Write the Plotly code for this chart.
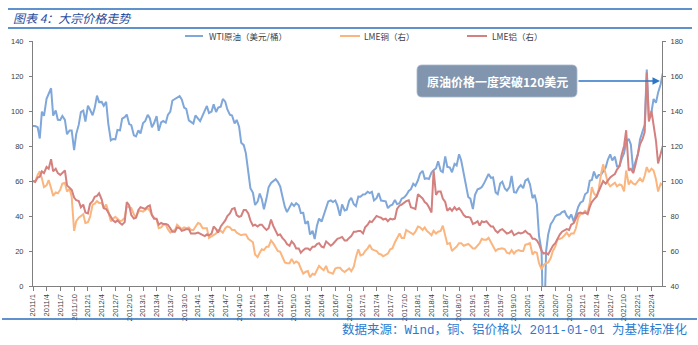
import pandas as pd
import plotly.graph_objects as go

# Semi-monthly samples (1st and 15th of each month), 2011-01 .. 2022-06
dates = pd.date_range("2011-01-01", "2022-06-15", freq="SMS")

# WTI crude, USD/bbl (left axis)
wti_usd = [
    # 2011
    91.5, 91.4, 90.8, 84.3, 99.6, 97.2, 107.0, 109.7, 113.0, 97.4, 100.3, 95.0,
    94.9, 97.2, 94.9, 86.7, 88.9, 88.9, 77.6, 86.8, 92.2, 99.4, 100.2, 94.0,
    # 2012
    103.0, 100.7, 97.6, 101.8, 108.8, 105.1, 105.2, 103.0, 105.2, 92.8, 83.2, 84.0,
    83.8, 89.2, 88.9, 95.6, 96.5, 98.0, 92.5, 91.9, 86.1, 85.5, 88.9, 87.2,
    # 2013
    93.1, 94.2, 97.8, 95.9, 90.7, 93.0, 97.1, 88.7, 93.5, 94.3, 93.3, 97.8,
    99.6, 106.0, 106.9, 107.3, 108.5, 106.6, 102.0, 101.2, 94.6, 93.8, 92.8, 97.5,
    # 2014
    95.4, 94.2, 97.5, 100.3, 102.9, 98.9, 99.7, 103.8, 99.4, 102.0, 102.5, 106.9,
    105.3, 100.9, 97.9, 97.4, 92.9, 94.9, 91.0, 81.8, 80.5, 75.8, 66.2, 55.9,
    # 2015
    53.3, 46.3, 48.2, 52.8, 49.6, 43.9, 50.1, 56.4, 58.9, 59.7, 61.0, 59.5,
    56.9, 51.4, 45.2, 42.2, 45.4, 47.2, 45.7, 47.3, 46.1, 41.7, 41.8, 35.5,
    # 2016
    37.0, 29.4, 31.6, 26.8, 34.4, 38.5, 36.8, 40.4, 44.8, 48.3, 48.9, 48.0,
    48.9, 45.9, 40.1, 46.6, 43.2, 43.6, 48.7, 50.4, 46.7, 45.6, 51.1, 51.0,
    # 2017
    52.3, 52.4, 53.9, 53.1, 53.8, 48.9, 50.2, 53.1, 48.8, 48.7, 48.4, 44.5,
    46.0, 46.5, 49.2, 46.8, 47.3, 49.9, 50.6, 51.9, 54.3, 55.3, 58.4, 57.3,
    # 2018
    60.4, 64.3, 65.8, 61.3, 61.6, 61.2, 64.9, 66.2, 67.3, 71.3, 65.8, 65.1,
    74.1, 68.1, 67.7, 65.0, 69.8, 68.9, 75.3, 71.8, 63.7, 56.5, 50.9, 49.9,
    # 2019
    44.0, 52.1, 55.3, 55.7, 56.6, 58.5, 61.6, 64.0, 61.8, 62.0, 53.5, 52.5,
    58.5, 59.6, 55.7, 54.5, 56.5, 62.9, 53.6, 53.4, 56.2, 57.7, 55.9, 60.2,
    # 2020
    61.2, 58.1, 50.2, 52.1, 46.8, 28.7, 20.3, -37.6, 19.8, 29.4, 35.4, 37.1,
    39.8, 40.6, 41.0, 42.2, 42.8, 40.2, 38.7, 40.9, 36.8, 41.4, 45.3, 47.6,
    # 2021
    48.5, 52.4, 53.6, 60.1, 60.6, 65.4, 61.5, 63.5, 63.6, 65.4, 67.7, 72.1,
    75.2, 71.7, 73.9, 68.4, 68.6, 72.6, 75.9, 82.3, 84.1, 80.9, 65.6, 70.9,
    # 2022
    75.2, 83.8, 88.2, 92.1, 123.7, 95.0, 99.3, 106.9, 104.7, 110.5, 115.3, 121.5,
]

# LME copper, % of 2011-01-01 level (right axis)
lme_copper_pct = [
    # 2011
    100, 99.5, 103.5, 105.5, 101.5, 96.5, 97.5, 100.5, 96, 91.5, 93.5, 93,
    95, 98.5, 99, 94, 95.5, 91, 71.5, 77, 79, 80, 81, 76,
    # 2012
    76.5, 79.5, 86.5, 87, 88.5, 87.5, 87.5, 84.5, 86.5, 82.5, 77, 78.5,
    79.5, 78.5, 77, 77.5, 79, 85.5, 85, 84.5, 81, 79, 82.5, 83,
    # 2013
    82.5, 83.5, 84.5, 83, 80.5, 79, 78, 73, 73.5, 75, 75, 72.5,
    70.5, 71.5, 72, 75, 73.5, 72.5, 73.5, 73, 73.5, 72, 72, 73.5,
    # 2014
    76, 75.5, 73, 73, 73, 67.5, 68.5, 69, 70, 72, 71.5, 70.5,
    73, 74, 73.5, 72, 72, 70.5, 69.5, 69, 69.5, 69.5, 67, 66,
    # 2015
    65, 58, 56.5, 59, 61, 60.5, 62.5, 62.5, 66, 64.5, 62, 60,
    59.5, 56.5, 53.5, 53, 53, 55.5, 53, 54, 53, 50, 47, 48,
    # 2016
    48.5, 45, 47, 46.5, 49, 51.5, 50, 49, 51.5, 48, 47.5, 47,
    50, 50.5, 50.5, 49, 48, 49, 50, 48.5, 51, 56.5, 61, 57.5,
    # 2017
    58, 60, 61.5, 63.5, 61, 60.5, 60, 58.5, 58, 57, 58, 58.5,
    61, 61.5, 65, 67.5, 70, 67.5, 67.5, 72, 71, 70, 69.5, 71,
    # 2018
    74, 73.5, 72, 73.5, 71.5, 70.5, 69, 71.5, 70, 71, 71.5, 74.5,
    68.5, 64, 64.5, 60, 61.5, 62.5, 64.5, 64.5, 63, 63.5, 64, 63,
    # 2019
    61.5, 61.5, 63.5, 64.5, 67, 66.5, 66.5, 67.5, 65, 62.5, 60, 61,
    61.5, 61.5, 61, 59, 58.5, 60.5, 58.5, 60, 60.5, 60, 60, 63.5,
    # 2020
    64, 64.5, 58, 59.5, 59, 53, 49.5, 52, 53, 53.5, 56, 60,
    62.5, 66.5, 67, 67.5, 69, 70.5, 68.5, 70, 70, 73, 79, 81,
    # 2021
    81.5, 83, 82, 87.5, 96.5, 93, 91, 95, 104, 109.5, 104, 99,
    97, 98, 99, 97, 98, 97.5, 94, 106, 98, 100, 98.5, 98,
    # 2022
    100, 101.5, 99.5, 103, 108, 105, 107, 106, 101, 94, 98.5, 97.5,
]

# LME aluminium, % of 2011-01-01 level (right axis)
lme_alu_pct = [
    # 2011
    100, 99.5, 102, 102.5, 105.5, 104.5, 108, 107, 112.5, 105.5, 107, 104.5,
    103.5, 104.5, 106, 97.5, 96, 95, 90.5, 89, 88.5, 85, 86.5, 82,
    # 2012
    81.5, 87, 88.5, 91, 91.5, 93, 89.5, 84.5, 84, 82, 80, 77.5,
    76.5, 77.5, 76, 75, 76.5, 88, 86, 80.5, 78.5, 79, 83.5, 85,
    # 2013
    84.5, 84, 85.5, 86, 80.5, 78.5, 78.5, 75, 76, 75.5, 75.5, 75,
    73, 71, 71, 73.5, 73, 71.5, 72, 72.5, 72.5, 70, 70, 70,
    # 2014
    70.5, 70, 69, 68.5, 69.5, 69, 70, 74, 72.5, 70.5, 74, 75.5,
    77.5, 80, 81.5, 84, 84.5, 80.5, 79.5, 80, 83.5, 83.5, 81.5, 77.5,
    # 2015
    74.5, 75, 74, 75, 75, 73.5, 72, 73, 78, 74.5, 71, 69,
    69.5, 67.5, 66, 64, 63, 65.5, 64, 61.5, 61.5, 59, 60.5, 61.5,
    # 2016
    61.5, 60.5, 62.5, 62.5, 64, 64.5, 62.5, 62, 65.5, 64.5, 63, 64,
    66, 67, 67.5, 68, 66, 66, 67.5, 68.5, 71, 71, 71.5, 71.5,
    # 2017
    70, 73.5, 75, 77, 76.5, 78, 80, 79.5, 79, 78, 78.5, 77,
    78.5, 78, 78.5, 84, 86, 86.5, 87.5, 88.5, 89, 85, 84.5, 84,
    # 2018
    92.5, 91.5, 90, 88, 87, 85, 82, 106, 92, 94, 94, 90,
    88, 83, 84.5, 83, 85, 83.5, 84.5, 83, 80.5, 79.5, 79.5, 79,
    # 2019
    75.5, 76, 77, 74.5, 77, 76.5, 77, 75.5, 74, 74, 71.5, 70.5,
    72, 72.5, 71, 70, 70.5, 71.5, 69, 69.5, 70.5, 70, 70.5, 71.5,
    # 2020
    70, 69.5, 67, 67, 66, 64, 60, 58.5, 59, 58, 60.5, 63,
    64.5, 67, 69.5, 71, 72, 72.5, 72, 75, 76, 78.5, 81.5, 82,
    # 2021
    81.5, 82, 81, 85, 88, 89.5, 91, 94, 97.5, 100, 98.5, 100.5,
    102, 103, 104, 106.5, 108.5, 115, 120, 129, 106, 107, 104.5, 109,
    # 2022
    115, 121, 124, 128, 162, 134, 140, 131, 123, 110, 116, 120,
]

series_names = ["WTI原油（美元/桶）", "LME铜（右）", "LME铝（右）"]
series_colors = ["#7FA7D9", "#FBB57E", "#D3807F"]

quarter_ticks = pd.date_range("2011-01-01", "2022-04-01", freq="QS")
quarter_labels = [f"{d.year}/{d.month}" for d in quarter_ticks]

left_ticks = list(range(0, 141, 20))
right_ticks = list(range(40, 181, 20))

title_text = "图表 4：大宗价格走势"
note_text = "原油价格一度突破120美元"
source_text = "数据来源：Wind，铜、铝价格以 2011-01-01 为基准标准化"

# ---- layout geometry (pixels) ----
W, H = 698, 345
ML, MR, MT, MB = 33, 36, 41, 59
PW, PH = W - ML - MR, H - MT - MB


def px(xpix):
    return (xpix - ML) / PW


def py(ypix):
    return (H - MB - ypix) / PH


fig = go.Figure()
fig.add_trace(go.Scatter(x=dates, y=wti_usd, name=series_names[0], mode="lines",
                         line=dict(color=series_colors[0], width=2), yaxis="y"))
fig.add_trace(go.Scatter(x=dates, y=lme_copper_pct, name=series_names[1], mode="lines",
                         line=dict(color=series_colors[1], width=2), yaxis="y2"))
fig.add_trace(go.Scatter(x=dates, y=lme_alu_pct, name=series_names[2], mode="lines",
                         line=dict(color=series_colors[2], width=2), yaxis="y2"))

axis_grey = "#7F7F7F"
tick_font = dict(family="Liberation Sans, Arial, sans-serif", size=7.5, color="#404040")

fig.update_layout(
    width=W, height=H,
    margin=dict(l=ML, r=MR, t=MT, b=MB, pad=0),
    paper_bgcolor="white", plot_bgcolor="white",
    showlegend=False,
    xaxis=dict(
        type="date", range=["2011-01-01", "2022-06-10"],
        tickmode="array", tickvals=quarter_ticks, ticktext=quarter_labels,
        tickangle=-90, tickfont=tick_font,
        showgrid=False, zeroline=False,
        showline=True, linecolor=axis_grey, linewidth=1,
        ticks="outside", ticklen=4, tickcolor=axis_grey,
    ),
    yaxis=dict(
        range=[0, 140], tickmode="array", tickvals=left_ticks,
        tickfont=tick_font, showgrid=False, zeroline=False,
        showline=True, linecolor=axis_grey, linewidth=1,
        ticks="outside", ticklen=3, tickcolor=axis_grey, ticklabelstandoff=4,
    ),
    yaxis2=dict(
        range=[40, 180], overlaying="y", side="right",
        tickmode="array", tickvals=right_ticks, ticksuffix="%",
        tickfont=tick_font, showgrid=False, zeroline=False,
        showline=True, linecolor=axis_grey, linewidth=1,
        ticks="outside", ticklen=3, tickcolor=axis_grey, ticklabelstandoff=3,
    ),
)

shapes = []
annotations = []
rule_color = "#2A6EBB"

# header rules
for ypix in (9, 28):
    shapes.append(dict(type="line", xref="paper", yref="paper",
                       x0=px(8), x1=px(692), y0=py(ypix), y1=py(ypix),
                       line=dict(color=rule_color, width=1.5)))
# footer rule
shapes.append(dict(type="line", xref="paper", yref="paper",
                   x0=px(2), x1=px(697), y0=py(319), y1=py(319),
                   line=dict(color=rule_color, width=1.5)))

annotations.append(dict(text=title_text, xref="paper", yref="paper",
                        x=px(11), y=py(18), xanchor="left", yanchor="middle",
                        showarrow=False,
                        font=dict(family="Noto Sans CJK SC", size=12, color="#1F4E9E",
                                  style="italic")))

annotations.append(dict(text=source_text, xref="paper", yref="paper",
                        x=px(690), y=py(330), xanchor="right", yanchor="middle",
                        showarrow=False,
                        font=dict(family="Liberation Mono, Noto Sans CJK SC", size=12.5,
                                  color="#2A7BD0")))

# legend built from line samples + labels
legend_pos = [(185, 203, 207), (340, 360, 362), (467, 487, 490)]
for (x0, x1, xt), name, color in zip(legend_pos, series_names, series_colors):
    shapes.append(dict(type="line", xref="paper", yref="paper",
                       x0=px(x0), x1=px(x1), y0=py(36), y1=py(36),
                       line=dict(color=color, width=2)))
    annotations.append(dict(text=name, xref="paper", yref="paper",
                            x=px(xt), y=py(36), xanchor="left", yanchor="middle",
                            showarrow=False,
                            font=dict(family="Noto Sans CJK SC", size=8.5, color="#404040")))

# callout box with rounded corners
bx0, bx1, by0, by1, r = 417, 577, 65, 97, 5
pts = [
    f"M {px(bx0 + r)},{py(by0)}",
    f"L {px(bx1 - r)},{py(by0)}",
    f"Q {px(bx1)},{py(by0)} {px(bx1)},{py(by0 + r)}",
    f"L {px(bx1)},{py(by1 - r)}",
    f"Q {px(bx1)},{py(by1)} {px(bx1 - r)},{py(by1)}",
    f"L {px(bx0 + r)},{py(by1)}",
    f"Q {px(bx0)},{py(by1)} {px(bx0)},{py(by1 - r)}",
    f"L {px(bx0)},{py(by0 + r)}",
    f"Q {px(bx0)},{py(by0)} {px(bx0 + r)},{py(by0)}",
    "Z",
]
shapes.append(dict(type="path", xref="paper", yref="paper", path=" ".join(pts),
                   fillcolor="#8195AF", line=dict(color="#A9B7CA", width=0.8)))
annotations.append(dict(text=f"<b>{note_text}</b>", xref="paper", yref="paper",
                        x=px((bx0 + bx1) / 2), y=py((by0 + by1) / 2),
                        xanchor="center", yanchor="middle", showarrow=False,
                        font=dict(family="Noto Sans CJK SC", size=12, color="white")))
# arrow from the box to the latest crude price
annotations.append(dict(text="", xref="paper", yref="paper",
                        x=px(660), y=py(81), ax=-(660 - bx1), ay=0,
                        showarrow=True, arrowhead=2, arrowsize=1, arrowwidth=1.5,
                        arrowcolor="#2E75C5"))

fig.update_layout(shapes=shapes, annotations=annotations)
fig.write_html("out.html")
